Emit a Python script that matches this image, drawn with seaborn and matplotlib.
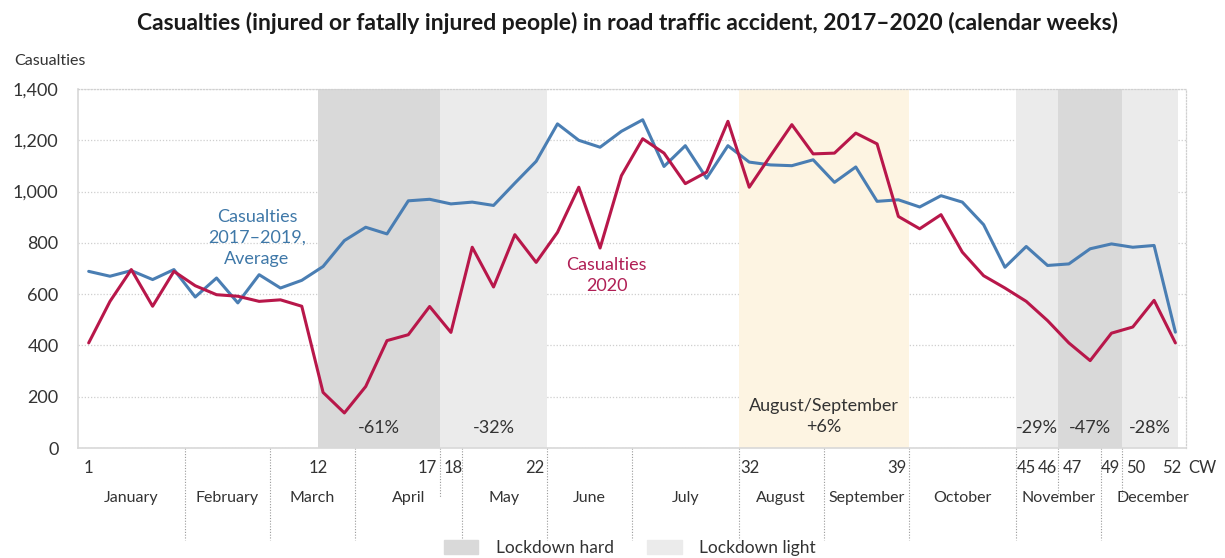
import numpy as np
import pandas as pd
import matplotlib.pyplot as plt
import matplotlib.transforms as mtransforms
from matplotlib.patches import Patch
from matplotlib.ticker import FuncFormatter
import seaborn as sns

weeks = list(range(1, 53))
avg_2017_2019 = [689, 670, 692, 657, 696, 589, 663, 566, 676, 624,
                 654, 708, 809, 861, 835, 964, 970, 952, 959, 946,
                 1033, 1118, 1264, 1200, 1173, 1235, 1280, 1098, 1179, 1052,
                 1179, 1115, 1104, 1101, 1124, 1036, 1096, 962, 968, 940,
                 984, 959, 871, 705, 786, 712, 718, 777, 796, 783,
                 790, 452]
cas_2020 = [410, 572, 696, 553, 689, 633, 598, 592, 572, 578,
            553, 217, 137, 240, 419, 442, 552, 451, 783, 628,
            832, 724, 841, 1017, 780, 1062, 1206, 1150, 1031, 1076,
            1274, 1017, 1140, 1261, 1147, 1150, 1228, 1186, 903, 855,
            910, 764, 672, 624, 572, 497, 410, 341, 448, 472,
            576, 410]

# shaded periods (start week, end week, kind, label)
periods = [(11.75, 17.5, "hard", "-61%"),
           (17.5, 22.5, "light", "-32%"),
           (31.5, 39.5, "summer", "August/September\n+6%"),
           (44.5, 46.5, "light", "-29%"),
           (46.5, 49.5, "hard", "-47%"),
           (49.5, 52.1, "light", "-28%")]

months = ["January", "February", "March", "April", "May", "June", "July",
          "August", "September", "October", "November", "December"]
month_edges = [0.5, 5.5, 9.5, 13.5, 18.5, 22.5, 26.5, 31.5, 35.5, 39.5, 44.5, 48.5, 53.4]
short_lines = [17.5, 46.5, 49.5]

# week number labels: (text, x, alignment)
week_labels = [("1", 1, "center"), ("12", 11.75, "center"), ("17", 17.35, "right"),
               ("18", 17.65, "left"), ("22", 22.4, "right"), ("32", 31.6, "left"),
               ("39", 39.4, "right"), ("45", 44.55, "left"), ("46", 46.45, "right"),
               ("47", 46.7, "left"), ("49", 49.4, "right"), ("50", 49.7, "left"),
               ("52", 52.3, "right"), ("CW", 52.6, "left")]

sns.set_style("white")
plt.rcParams["font.family"] = ["Lato", "DejaVu Sans"]

blue = "#4a7eb3"
red = "#b8174a"
shade = {"hard": "#d9d9d9", "light": "#ebebeb", "summer": "#fdf4e2"}
grey_txt = "#333333"

df = pd.DataFrame({"week": weeks + weeks,
                   "value": avg_2017_2019 + cas_2020,
                   "series": ["avg"] * 52 + ["2020"] * 52})

fig = plt.figure(figsize=(12.25, 5.58), dpi=100)
ax = fig.add_axes([0.0637, 0.197, 0.9045, 0.6435])

for a, b, kind, lab in periods:
    ax.axvspan(a, b, color=shade[kind], lw=0, zorder=1)
    nlines = lab.count("\n") + 1
    ax.text((a + b) / 2, 78 + 45 * (nlines - 1), lab, ha="center", va="center",
            fontsize=13, color=grey_txt, linespacing=1.35, zorder=3)

sns.lineplot(data=df, x="week", y="value", hue="series",
             palette={"avg": blue, "2020": red}, linewidth=2.2,
             legend=False, ax=ax, zorder=2)

ax.set_xlim(0.5, 52.5)
ax.set_ylim(0, 1400)
ax.set_yticks(range(0, 1401, 200))
ax.yaxis.set_major_formatter(FuncFormatter(lambda v, p: f"{int(v):,}"))
ax.tick_params(axis="y", labelsize=13, colors=grey_txt, length=0, pad=14)
ax.set_xticks([])
ax.set_xlabel("")
ax.set_ylabel("")
ax.set_axisbelow(True)
ax.grid(axis="y", color="#cfcfcf", linestyle=(0, (1, 1.5)), linewidth=0.9)

for side in ["left", "bottom"]:
    ax.spines[side].set_color("#d8d8d8")
    ax.spines[side].set_linewidth(1.2)
for side in ["top", "right"]:
    ax.spines[side].set_color("#d0d0d0")
    ax.spines[side].set_linestyle((0, (1, 1.5)))
    ax.spines[side].set_linewidth(0.9)

trans = mtransforms.blended_transform_factory(ax.transData, ax.transAxes)

for e in month_edges[1:-1]:
    ax.plot([e, e], [0, -0.255], transform=trans, clip_on=False,
            color="#9a9a9a", lw=0.8, ls=(0, (1, 1.5)))
for e in short_lines:
    ax.plot([e, e], [0, -0.137], transform=trans, clip_on=False,
            color="#9a9a9a", lw=0.8, ls=(0, (1, 1.5)))

for i, m in enumerate(months):
    ax.text((month_edges[i] + month_edges[i + 1]) / 2, -0.14, m,
            transform=trans, ha="center", va="center", fontsize=11.5, color=grey_txt)

for t, x, ha in week_labels:
    ax.text(x, -0.056, t, transform=trans, ha=ha, va="center",
            fontsize=12, color=grey_txt)

ax.text(8.9, 820, "Casualties\n2017\u20132019,\nAverage", ha="center", va="center",
        fontsize=13, color="#3f78a8", linespacing=1.4)
ax.text(25.3, 672, "Casualties\n2020", ha="center", va="center",
        fontsize=13, color="#b01f55", linespacing=1.4)

fig.text(0.012, 0.891, "Casualties", fontsize=11.5, color=grey_txt, va="center")
fig.text(0.512, 0.958,
         "Casualties (injured or fatally injured people) in road traffic accident, "
         "2017\u20132020 (calendar weeks)",
         ha="center", va="center", fontsize=16.5, fontweight="bold", color="#1a1a1a")

handles = [Patch(color=shade["hard"], label="Lockdown hard"),
           Patch(color=shade["light"], label="Lockdown light")]
fig.legend(handles=handles, loc="center", bbox_to_anchor=(0.514, 0.018), ncol=2,
           frameon=False, fontsize=12.5, handlelength=2.0, handleheight=0.9,
           columnspacing=1.9, handletextpad=1.0, labelcolor=grey_txt)

fig.savefig("out.png", dpi=100)
